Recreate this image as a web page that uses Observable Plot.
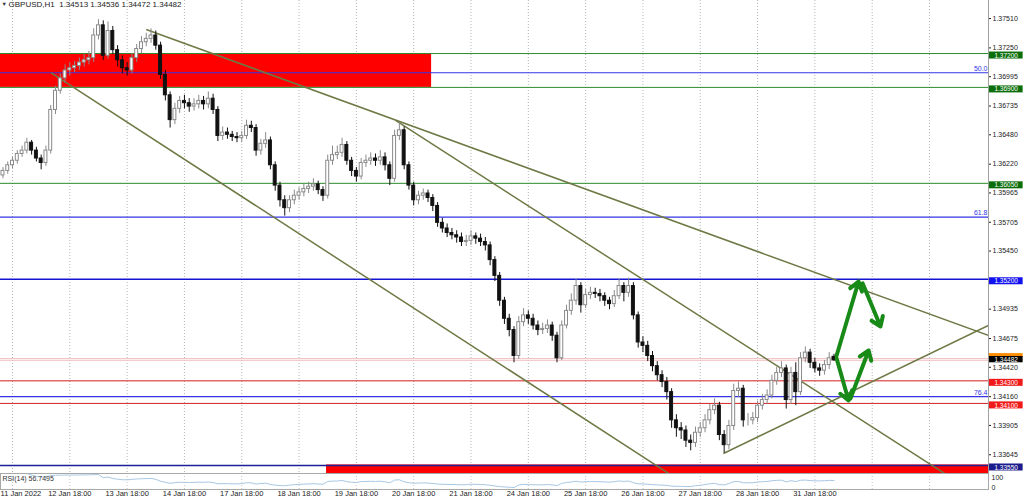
<!DOCTYPE html>
<html><head><meta charset="utf-8">
<script src="https://cdn.jsdelivr.net/npm/d3@7"></script>
<script src="https://cdn.jsdelivr.net/npm/@observablehq/plot@0.6"></script>
<style>
html,body{margin:0;padding:0;background:#fff;}
body{width:1024px;height:501px;overflow:hidden;position:relative;font-family:"Liberation Sans",Arial,sans-serif;}
#main{position:absolute;left:0;top:0;}
#sub{position:absolute;left:0;top:471px;}
</style></head><body><div id="main"></div><div id="sub"></div>
<script>
// ---------- DATA ----------
const symbol = "GBPUSD,H1";
// bar time in trading hours from 11 Jan 18:00 (2-hour bars)
const barHour = d3.range(-4, 345, 2);
const open = [
1.3612,1.3616,1.3621,1.3625,1.3631,1.3634,1.3641,1.3634,1.3627,1.3623,
1.3634,1.3670,1.3687,1.3698,1.3705,1.3707,1.3709,1.3712,1.3714,1.3716,
1.3736,1.3745,1.3718,1.3740,1.3723,1.3714,1.3707,1.3705,1.3716,1.3724,
1.3730,1.3733,1.3736,1.3727,1.3701,1.3683,1.3661,1.3671,1.3678,1.3676,
1.3673,1.3675,1.3678,1.3675,1.3680,1.3670,1.3647,1.3650,1.3648,1.3646,
1.3645,1.3647,1.3656,1.3654,1.3634,1.3640,1.3643,1.3621,1.3603,1.3590,
1.3583,1.3590,1.3594,1.3597,1.3600,1.3602,1.3604,1.3599,1.3594,1.3625,
1.3630,1.3632,1.3639,1.3625,1.3616,1.3611,1.3623,1.3625,1.3627,1.3625,
1.3628,1.3621,1.3609,1.3647,1.3652,1.3621,1.3603,1.3590,1.3594,1.3596,
1.3592,1.3585,1.3570,1.3565,1.3561,1.3559,1.3557,1.3553,1.3554,1.3558,
1.3556,1.3553,1.3550,1.3537,1.3523,1.3501,1.3485,1.3475,1.3452,1.3482,
1.3488,1.3485,1.3479,1.3475,1.3476,1.3479,1.3470,1.3450,1.3479,1.3492,
1.3501,1.3514,1.3497,1.3506,1.3508,1.3507,1.3505,1.3501,1.3498,1.3505,
1.3514,1.3508,1.3514,1.3488,1.3464,1.3461,1.3452,1.3443,1.3435,1.3429,
1.3420,1.3395,1.3388,1.3386,1.3377,1.3375,1.3384,1.3388,1.3395,1.3404,
1.3408,1.3382,1.3373,1.3390,1.3421,1.3423,1.3395,1.3395,1.3397,1.3408,
1.3413,1.3417,1.3430,1.3437,1.3441,1.3413,1.3437,1.3420,1.3450,1.3455,
1.3446,1.3441,1.3439,1.3444,1.34513];
const high = [
1.3619,1.3624,1.3628,1.3634,1.3638,1.3645,1.3643,1.3637,1.3630,1.3638,
1.3674,1.3691,1.3702,1.3710,1.3712,1.3713,1.3716,1.3719,1.3722,1.3742,
1.3750,1.3749,1.3748,1.3744,1.3727,1.3718,1.3712,1.3720,1.3728,1.3735,
1.3738,1.3742,1.3740,1.3730,1.3705,1.3686,1.3676,1.3682,1.3683,1.3680,
1.3680,1.3683,1.3682,1.3686,1.3684,1.3673,1.3655,1.3654,1.3651,1.3650,
1.3651,1.3661,1.3660,1.3657,1.3644,1.3650,1.3646,1.3624,1.3606,1.3594,
1.3594,1.3599,1.3601,1.3604,1.3606,1.3609,1.3607,1.3602,1.3630,1.3638,
1.3638,1.3645,1.3642,1.3628,1.3619,1.3627,1.3630,1.3632,1.3631,1.3634,
1.3632,1.3624,1.3652,1.3659,1.3655,1.3624,1.3606,1.3598,1.3600,1.3599,
1.3595,1.3588,1.3574,1.3569,1.3565,1.3563,1.3561,1.3559,1.3563,1.3561,
1.3560,1.3557,1.3553,1.3540,1.3526,1.3504,1.3489,1.3478,1.3487,1.3494,
1.3492,1.3489,1.3483,1.3481,1.3484,1.3482,1.3473,1.3483,1.3497,1.3507,
1.3520,1.3517,1.3511,1.3513,1.3512,1.3511,1.3508,1.3504,1.3510,1.3520,
1.3517,1.3521,1.3517,1.3491,1.3469,1.3465,1.3456,1.3447,1.3439,1.3433,
1.3423,1.3400,1.3393,1.3390,1.3382,1.3389,1.3393,1.3400,1.3409,1.3414,
1.3411,1.3386,1.3395,1.3427,1.3429,1.3426,1.3401,1.3402,1.3412,1.3418,
1.3422,1.3435,1.3442,1.3447,1.3444,1.3442,1.3446,1.3455,1.3460,1.3458,
1.3450,1.3445,1.3448,1.3455,1.34536];
const low = [
1.3609,1.3613,1.3618,1.3622,1.3628,1.3631,1.3630,1.3624,1.3617,1.3620,
1.3631,1.3666,1.3684,1.3694,1.3700,1.3703,1.3705,1.3708,1.3710,1.3712,
1.3732,1.3714,1.3715,1.3719,1.3708,1.3702,1.3700,1.3702,1.3712,1.3720,
1.3726,1.3729,1.3723,1.3697,1.3678,1.3654,1.3657,1.3667,1.3671,1.3668,
1.3669,1.3671,1.3670,1.3671,1.3666,1.3642,1.3643,1.3644,1.3642,1.3641,
1.3641,1.3644,1.3650,1.3629,1.3630,1.3636,1.3617,1.3598,1.3584,1.3576,
1.3579,1.3586,1.3590,1.3593,1.3596,1.3598,1.3595,1.3589,1.3591,1.3621,
1.3626,1.3628,1.3621,1.3611,1.3606,1.3608,1.3619,1.3621,1.3620,1.3621,
1.3616,1.3603,1.3606,1.3643,1.3617,1.3599,1.3585,1.3586,1.3590,1.3588,
1.3580,1.3566,1.3561,1.3557,1.3555,1.3552,1.3549,1.3549,1.3550,1.3551,
1.3549,1.3545,1.3532,1.3518,1.3496,1.3480,1.3469,1.3446,1.3449,1.3478,
1.3480,1.3475,1.3470,1.3471,1.3472,1.3465,1.3446,1.3448,1.3476,1.3488,
1.3497,1.3490,1.3494,1.3502,1.3503,1.3500,1.3496,1.3493,1.3495,1.3502,
1.3500,1.3504,1.3484,1.3459,1.3455,1.3447,1.3438,1.3430,1.3424,1.3413,
1.3388,1.3380,1.3378,1.3371,1.3368,1.3371,1.3380,1.3384,1.3391,1.3400,
1.3377,1.3366,1.3369,1.3386,1.3415,1.3389,1.3390,1.3391,1.3393,1.3404,
1.3409,1.3414,1.3426,1.3433,1.3405,1.3409,1.3408,1.3417,1.3446,1.3441,
1.3437,1.3434,1.3435,1.3440,1.34472];
const close = [
1.3616,1.3621,1.3625,1.3631,1.3634,1.3641,1.3634,1.3627,1.3623,1.3634,
1.3670,1.3687,1.3698,1.3705,1.3707,1.3709,1.3712,1.3714,1.3716,1.3736,
1.3745,1.3718,1.3740,1.3723,1.3714,1.3707,1.3705,1.3716,1.3724,1.3730,
1.3733,1.3736,1.3727,1.3701,1.3683,1.3661,1.3671,1.3678,1.3676,1.3673,
1.3675,1.3678,1.3675,1.3680,1.3670,1.3647,1.3650,1.3648,1.3646,1.3645,
1.3647,1.3656,1.3654,1.3634,1.3640,1.3643,1.3621,1.3603,1.3590,1.3583,
1.3590,1.3594,1.3597,1.3600,1.3602,1.3604,1.3599,1.3594,1.3625,1.3630,
1.3632,1.3639,1.3625,1.3616,1.3611,1.3623,1.3625,1.3627,1.3625,1.3628,
1.3621,1.3609,1.3647,1.3652,1.3621,1.3603,1.3590,1.3594,1.3596,1.3592,
1.3585,1.3570,1.3565,1.3561,1.3559,1.3557,1.3553,1.3554,1.3558,1.3556,
1.3553,1.3550,1.3537,1.3523,1.3501,1.3485,1.3475,1.3452,1.3482,1.3488,
1.3485,1.3479,1.3475,1.3476,1.3479,1.3470,1.3450,1.3479,1.3492,1.3501,
1.3514,1.3497,1.3506,1.3508,1.3507,1.3505,1.3501,1.3498,1.3505,1.3514,
1.3508,1.3514,1.3488,1.3464,1.3461,1.3452,1.3443,1.3435,1.3429,1.3420,
1.3395,1.3388,1.3386,1.3377,1.3375,1.3384,1.3388,1.3395,1.3404,1.3408,
1.3382,1.3373,1.3390,1.3421,1.3423,1.3395,1.3395,1.3397,1.3408,1.3413,
1.3417,1.3430,1.3437,1.3441,1.3413,1.3437,1.3420,1.3450,1.3455,1.3446,
1.3441,1.3439,1.3444,1.3450,1.34482];

// time axis (grid every 24 trading hours)
const gridHours = [0,24,48,72,96,120,144,168,192,216,240,264,288,312,336,360,384];
const timeLabels = ["11 Jan 2022","12 Jan 18:00","13 Jan 18:00","14 Jan 18:00","17 Jan 18:00",
  "18 Jan 18:00","19 Jan 18:00","20 Jan 18:00","21 Jan 18:00","24 Jan 18:00","25 Jan 18:00",
  "26 Jan 18:00","27 Jan 18:00","28 Jan 18:00","31 Jan 18:00"];
// price axis ticks
const priceTicks = [1.37510,1.37250,1.36995,1.36735,1.36480,1.36220,1.35965,1.35705,1.35450,
  1.34935,1.34675,1.34420,1.34160,1.33905,1.33645];
// horizontal levels
const levelPrice = [1.3720,1.3690,1.3605,1.3520,1.3430,1.3410,1.3355];
const levelColor = ["#2e8b2e","#2e8b2e","#2e8b2e","#1414d2","#d42020","#d42020","#1e1e96"];
const levelWidth = [1,1,1,1.6,1,1,1.6];
const levelTag = ["#0b6e0b","#0b6e0b","#0b6e0b","#1010f0","#f01818","#f01818","#1c1c8c"];
// fibonacci levels
const fibPrice = [1.3703,1.3575,1.3416];
const fibName = ["50.0","61.8","76.4"];
// bid / ask
const bid = 1.34482, ask = 1.34497;
// supply / demand zones
const zoneH1 = [-6, 131.5], zoneH2 = [175.5, 420], zoneP1 = [1.3690, 1.3330], zoneP2 = [1.3720, 1.33555];
// trend lines
const trendH1 = [16.2, 56.0, 160.4, 297.7], trendP1 = [1.37029, 1.37413, 1.36607, 1.33656];
const trendH2 = [288.1, 408.7, 397.0, 408.7], trendP2 = [1.33296, 1.34702, 1.33388, 1.34791];
// projection arrows
const arrH1 = [345.1, 356.0, 345.1, 350.9], arrP1 = [1.34525, 1.35163, 1.34498, 1.34144];
const arrH2 = [354.3, 363.5, 350.1, 358.5], arrP2 = [1.35180, 1.34782, 1.34126, 1.34569];
const rsiText = "RSI(14) 56.7495";

// ---------- BUILD ----------
const font = "'Liberation Sans', Arial, sans-serif";
const fs = 7;
const px = 0.0000886; // price per pixel in the main panel (for tag sizing only)
const xDomain = [-5.03, 408.7];
const fmt5 = d3.format(".5f");
const bars = close.map((c, i) => ({t: barHour[i], o: open[i], h: high[i], l: low[i], c}));
const up = bars.filter(d => d.c >= d.o), dn = bars.filter(d => d.c < d.o);
const levels = levelPrice.map((p, i) => ({p, color: levelColor[i], w: levelWidth[i], tag: levelTag[i]}));
const fibs = fibPrice.map((p, i) => ({p, name: fibName[i]}));
const zones = zoneH1.map((h, i) => ({h1: h, h2: zoneH2[i], p1: zoneP1[i], p2: zoneP2[i]}));
const trends = trendH1.map((h, i) => ({h1: h, p1: trendP1[i], h2: trendH2[i], p2: trendP2[i]}));
const arrows = arrH1.map((h, i) => ({h1: h, p1: arrP1[i], h2: arrH2[i], p2: arrP2[i]}));
const tagX1 = 409.1, tagX2 = 423.2, tagXc = 416.1;
const title = `${symbol}  ${fmt5(open.at(-1))} ${fmt5(high.at(-1))} ${fmt5(low.at(-1))} ${fmt5(close.at(-1))}`;

const main = Plot.plot({
  width: 1024, height: 473,
  marginLeft: 0, marginRight: 36, marginTop: 0, marginBottom: 0,
  x: {domain: xDomain, axis: null},
  y: {domain: [1.33479, 1.3767], axis: null},
  color: {type: "identity"},
  style: {fontFamily: font, fontSize: fs + "px", background: "transparent", overflow: "visible"},
  marks: [
    Plot.ruleX(gridHours, {stroke: "#b4b4b4", strokeDasharray: "1,2", strokeWidth: 1}),
    Plot.rect(zones, {x1: "h1", x2: "h2", y1: "p1", y2: "p2", fill: "#ff0000", clip: true}),
    Plot.ruleY([ask, bid], {stroke: "#f2c0c0", strokeWidth: 1}),
    Plot.ruleY(fibs, {y: "p", stroke: "#3434e6", strokeWidth: 1.2}),
    Plot.ruleY(levels, {y: "p", stroke: "color", strokeWidth: "w"}),
    Plot.text(fibs, {x: xDomain[1], y: "p", text: "name", textAnchor: "end", dx: -1, dy: -4, fill: "#3434e6", fontSize: fs}),
    Plot.link(trends, {x1: "h1", y1: "p1", x2: "h2", y2: "p2", stroke: "#6e7a45", strokeWidth: 1.5, clip: true}),
    Plot.ruleX(up, {x: "t", y1: "l", y2: "h", stroke: "#8a8a8a", strokeWidth: 1}),
    Plot.ruleX(dn, {x: "t", y1: "l", y2: "h", stroke: "#111", strokeWidth: 1}),
    Plot.rect(up, {x1: d => d.t - 0.62, x2: d => d.t + 0.62, y1: "o", y2: "c", fill: "#fff", stroke: "#8a8a8a", strokeWidth: 1}),
    Plot.rect(dn, {x1: d => d.t - 0.62, x2: d => d.t + 0.62, y1: "o", y2: "c", fill: "#111", stroke: "#111", strokeWidth: 1}),
    Plot.arrow(arrows, {x1: "h1", y1: "p1", x2: "h2", y2: "p2", stroke: "#178a17", strokeWidth: 4, headLength: 4, headAngle: 70}),
    Plot.ruleX([xDomain[1]], {stroke: "#a0a0a0"}),
    Plot.axisY(priceTicks, {anchor: "right", tickFormat: fmt5, tickSize: 2, tickPadding: 2, fontSize: fs, color: "#222", label: null}),
    // level tags on the price scale
    Plot.rect(levels, {x1: tagX1, x2: tagX2, y1: d => d.p - 5.5 * px, y2: d => d.p + 1.5 * px, fill: "tag"}),
    Plot.text(levels, {x: tagXc, y: "p", dy: 2, text: d => fmt5(d.p), fill: "#fff", fontSize: 6.5}),
    Plot.rect([ask], {x1: tagX1, x2: tagX2, y1: d => d + 1 * px, y2: d => d + 5 * px, fill: "#ff8c00"}),
    Plot.rect([bid], {x1: tagX1, x2: tagX2, y1: d => d - 2.5 * px, y2: d => d + 3.8 * px, fill: "#000"}),
    Plot.text([bid], {x: tagXc, y: d => d, dy: -0.5, text: d => fmt5(d), fill: "#fff", fontSize: 6.5}),
    Plot.text(["\u25BC"], {frameAnchor: "top-left", dx: 1, dy: 2, fontSize: 5.5, fill: "#333"}),
    Plot.text([title], {frameAnchor: "top-left", dx: 8, dy: 1, fontSize: 8, fill: "#222"})
  ]
});
document.getElementById("main").appendChild(main);

// RSI(14) from closes (Wilder smoothing)
const rsiData = [];
{
  let ag = 0, al = 0;
  for (let i = 1; i < close.length; i++) {
    const d = close[i] - close[i - 1];
    const g = Math.max(d, 0), l = Math.max(-d, 0);
    if (i === 1) { ag = g; al = l; } else { ag = (ag * 13 + g) / 14; al = (al * 13 + l) / 14; }
    rsiData.push({t: barHour[i], r: al === 0 ? 100 : 100 - 100 / (1 + ag / al)});
  }
}
const ticks = timeLabels.map((label, i) => ({t: gridHours[i], label}));

const sub = Plot.plot({
  width: 1024, height: 30,
  marginLeft: 0, marginRight: 36, marginTop: 2, marginBottom: 12,
  x: {domain: xDomain, axis: null},
  y: {domain: [0, 100], axis: null},
  style: {fontFamily: font, fontSize: "7.5px", background: "transparent", overflow: "visible"},
  marks: [
    Plot.ruleX(gridHours, {stroke: "#c4c4c4", strokeDasharray: "1,2"}),
    Plot.line(rsiData, {x: "t", y: "r", stroke: "#a8c8e4", strokeWidth: 1}),
    Plot.frame({stroke: "#a8a8a8"}),
    Plot.text([rsiText], {frameAnchor: "top-left", dx: 2, dy: 3, fontSize: 7, fill: "#333"}),
    Plot.text(["100"], {x: xDomain[1], y: 100, dx: 3, dy: 2, textAnchor: "start", lineAnchor: "top", fontSize: 7, fill: "#222"}),
    Plot.text(["0"], {x: xDomain[1], y: 0, dx: 3, dy: 0, textAnchor: "start", lineAnchor: "bottom", fontSize: 7, fill: "#222"}),
    Plot.text(ticks.slice(0, 1), {x: "t", text: "label", frameAnchor: "bottom", lineAnchor: "top", textAnchor: "start", dx: -12, dy: 1.5, fontSize: 7.5, fill: "#222"}),
    Plot.text(ticks.slice(1), {x: "t", text: "label", frameAnchor: "bottom", lineAnchor: "top", dy: 1.5, fontSize: 7.5, fill: "#222"})
  ]
});
document.getElementById("sub").appendChild(sub);
</script>
</body></html>
